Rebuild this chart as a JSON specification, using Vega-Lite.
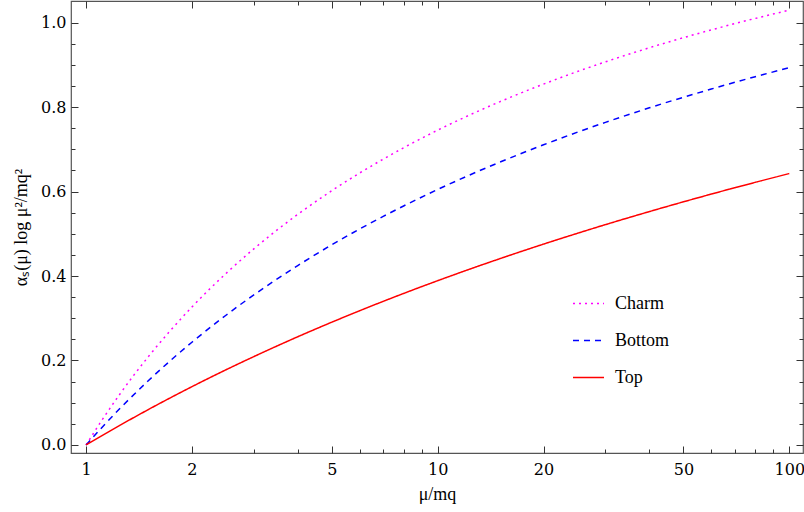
{
  "$schema": "https://vega.github.io/schema/vega-lite/v6.json",
  "width": 732,
  "height": 452,
  "autosize": {"type": "none"},
  "padding": {"left": 71, "top": 1, "right": 1, "bottom": 59},
  "background": "white",
  "config": {
    "view": {"stroke": "#555555", "strokeWidth": 1.2},
    "axis": {
      "domain": false,
      "grid": false,
      "labelFont": "DejaVu Serif",
      "labelFontSize": 16,
      "labelColor": "#000000",
      "tickColor": "#333333",
      "titleFont": "Liberation Serif",
      "titleFontSize": 18,
      "titleFontWeight": "normal",
      "titleColor": "#000000"
    }
  },
  "data": {
    "values": [
      {"x": 1, "value": 0, "quark": "Charm"},
      {"x": 1.1, "value": 0.054, "quark": "Charm"},
      {"x": 1.25, "value": 0.1213, "quark": "Charm"},
      {"x": 1.5, "value": 0.208, "quark": "Charm"},
      {"x": 2, "value": 0.3265, "quark": "Charm"},
      {"x": 2.5, "value": 0.406, "quark": "Charm"},
      {"x": 3, "value": 0.4643, "quark": "Charm"},
      {"x": 4, "value": 0.5459, "quark": "Charm"},
      {"x": 5, "value": 0.602, "quark": "Charm"},
      {"x": 6, "value": 0.6438, "quark": "Charm"},
      {"x": 7, "value": 0.6767, "quark": "Charm"},
      {"x": 8, "value": 0.7035, "quark": "Charm"},
      {"x": 10, "value": 0.7452, "quark": "Charm"},
      {"x": 12, "value": 0.7766, "quark": "Charm"},
      {"x": 15, "value": 0.8123, "quark": "Charm"},
      {"x": 20, "value": 0.8543, "quark": "Charm"},
      {"x": 25, "value": 0.8842, "quark": "Charm"},
      {"x": 30, "value": 0.9069, "quark": "Charm"},
      {"x": 40, "value": 0.9403, "quark": "Charm"},
      {"x": 50, "value": 0.9642, "quark": "Charm"},
      {"x": 60, "value": 0.9826, "quark": "Charm"},
      {"x": 70, "value": 0.9974, "quark": "Charm"},
      {"x": 80, "value": 1.0097, "quark": "Charm"},
      {"x": 100, "value": 1.0294, "quark": "Charm"},
      {"x": 1, "value": 0, "quark": "Bottom"},
      {"x": 1.1, "value": 0.0382, "quark": "Bottom"},
      {"x": 1.25, "value": 0.0869, "quark": "Bottom"},
      {"x": 1.5, "value": 0.1514, "quark": "Bottom"},
      {"x": 2, "value": 0.2432, "quark": "Bottom"},
      {"x": 2.5, "value": 0.3071, "quark": "Bottom"},
      {"x": 3, "value": 0.3553, "quark": "Bottom"},
      {"x": 4, "value": 0.4247, "quark": "Bottom"},
      {"x": 5, "value": 0.4739, "quark": "Bottom"},
      {"x": 6, "value": 0.5113, "quark": "Bottom"},
      {"x": 7, "value": 0.5411, "quark": "Bottom"},
      {"x": 8, "value": 0.5658, "quark": "Bottom"},
      {"x": 10, "value": 0.6048, "quark": "Bottom"},
      {"x": 12, "value": 0.6348, "quark": "Bottom"},
      {"x": 15, "value": 0.6693, "quark": "Bottom"},
      {"x": 20, "value": 0.7106, "quark": "Bottom"},
      {"x": 25, "value": 0.7406, "quark": "Bottom"},
      {"x": 30, "value": 0.7637, "quark": "Bottom"},
      {"x": 40, "value": 0.7981, "quark": "Bottom"},
      {"x": 50, "value": 0.8232, "quark": "Bottom"},
      {"x": 60, "value": 0.8426, "quark": "Bottom"},
      {"x": 70, "value": 0.8585, "quark": "Bottom"},
      {"x": 80, "value": 0.8718, "quark": "Bottom"},
      {"x": 100, "value": 0.8931, "quark": "Bottom"},
      {"x": 1, "value": 0, "quark": "Top"},
      {"x": 1.1, "value": 0.0204, "quark": "Top"},
      {"x": 1.25, "value": 0.0469, "quark": "Top"},
      {"x": 1.5, "value": 0.0834, "quark": "Top"},
      {"x": 2, "value": 0.138, "quark": "Top"},
      {"x": 2.5, "value": 0.178, "quark": "Top"},
      {"x": 3, "value": 0.2092, "quark": "Top"},
      {"x": 4, "value": 0.2562, "quark": "Top"},
      {"x": 5, "value": 0.2907, "quark": "Top"},
      {"x": 6, "value": 0.3178, "quark": "Top"},
      {"x": 7, "value": 0.34, "quark": "Top"},
      {"x": 8, "value": 0.3587, "quark": "Top"},
      {"x": 10, "value": 0.3889, "quark": "Top"},
      {"x": 12, "value": 0.4127, "quark": "Top"},
      {"x": 15, "value": 0.4408, "quark": "Top"},
      {"x": 20, "value": 0.4755, "quark": "Top"},
      {"x": 25, "value": 0.5012, "quark": "Top"},
      {"x": 30, "value": 0.5216, "quark": "Top"},
      {"x": 40, "value": 0.5525, "quark": "Top"},
      {"x": 50, "value": 0.5756, "quark": "Top"},
      {"x": 60, "value": 0.5939, "quark": "Top"},
      {"x": 70, "value": 0.609, "quark": "Top"},
      {"x": 80, "value": 0.6217, "quark": "Top"},
      {"x": 100, "value": 0.6426, "quark": "Top"}
    ]
  },
  "layer": [
    {
      "mark": {"type": "line", "strokeWidth": 1.5, "interpolate": "monotone"},
      "encoding": {
        "x": {
          "field": "x",
          "type": "quantitative",
          "scale": {"type": "log", "domain": [0.906, 109.4], "nice": false, "zero": false},
          "axis": {
            "title": "μ/mq",
            "values": [1, 2, 3, 4, 5, 6, 7, 8, 9, 10, 20, 30, 40, 50, 60, 70, 80, 90, 100],
            "labelExpr": "indexof([1,2,5,10,20,50,100], datum.value) >= 0 ? '' + datum.value : ''",
            "tickSize": {"condition": {"test": "indexof([1,2,5,10,20,50,100], datum.value) >= 0", "value": -7}, "value": -4},
            "labelPadding": 15,
            "titlePadding": 8
          }
        },
        "y": {
          "field": "value",
          "type": "quantitative",
          "scale": {"domain": [-0.019, 1.051], "nice": false, "zero": false},
          "axis": {
            "title": "αₛ(μ) log μ²/mq²",
            "values": [0, 0.05, 0.1, 0.15, 0.2, 0.25, 0.3, 0.35, 0.4, 0.45, 0.5, 0.55, 0.6, 0.65, 0.7, 0.75, 0.8, 0.85, 0.9, 0.95, 1.0],
            "labelExpr": "abs(datum.value*5 - round(datum.value*5)) < 0.001 ? format(datum.value, '.1f') : ''",
            "tickSize": {"condition": {"test": "abs(datum.value*5 - round(datum.value*5)) < 0.001", "value": -7}, "value": -4},
            "labelPadding": 12,
            "titlePadding": 10
          }
        },
        "color": {
          "field": "quark",
          "type": "nominal",
          "scale": {"domain": ["Charm", "Bottom", "Top"], "range": ["#ff00ff", "#0000ff", "#ff0000"]},
          "legend": {
            "title": null,
            "orient": "none",
            "legendX": 501,
            "legendY": 286,
            "symbolType": "stroke",
            "symbolSize": 961,
            "symbolStrokeWidth": 1.5,
            "labelFont": "Liberation Serif",
            "labelFontSize": 18,
            "labelColor": "#000000",
            "labelOffset": 10,
            "rowPadding": 11
          }
        },
        "strokeDash": {
          "field": "quark",
          "type": "nominal",
          "scale": {"domain": ["Charm", "Bottom", "Top"], "range": [[2, 4], [6, 5], [1, 0]]},
          "legend": {
            "title": null,
            "orient": "none",
            "legendX": 501,
            "legendY": 286,
            "symbolType": "stroke",
            "symbolSize": 961,
            "symbolStrokeWidth": 1.5,
            "labelFont": "Liberation Serif",
            "labelFontSize": 18,
            "labelColor": "#000000",
            "labelOffset": 10,
            "rowPadding": 11
          }
        }
      }
    },
    {
      "mark": {"type": "line", "strokeOpacity": 0},
      "encoding": {
        "x": {
          "field": "x",
          "type": "quantitative",
          "axis": {
            "orient": "top",
            "title": null,
            "labels": false,
            "values": [1, 2, 3, 4, 5, 6, 7, 8, 9, 10, 20, 30, 40, 50, 60, 70, 80, 90, 100],
            "tickSize": {"condition": {"test": "indexof([1,2,5,10,20,50,100], datum.value) >= 0", "value": -7}, "value": -4}
          }
        },
        "y": {
          "field": "value",
          "type": "quantitative",
          "axis": {
            "orient": "right",
            "title": null,
            "labels": false,
            "values": [0, 0.05, 0.1, 0.15, 0.2, 0.25, 0.3, 0.35, 0.4, 0.45, 0.5, 0.55, 0.6, 0.65, 0.7, 0.75, 0.8, 0.85, 0.9, 0.95, 1.0],
            "tickSize": {"condition": {"test": "abs(datum.value*5 - round(datum.value*5)) < 0.001", "value": -7}, "value": -4}
          }
        },
        "detail": {"field": "quark", "type": "nominal"}
      }
    }
  ],
  "resolve": {"axis": {"x": "independent", "y": "independent"}}
}
